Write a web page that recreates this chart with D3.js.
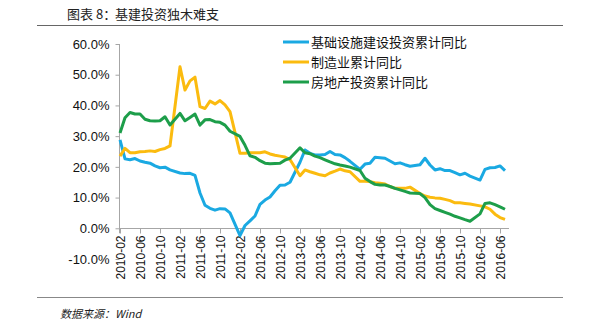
<!DOCTYPE html>
<html>
<meta charset="utf-8">
<script src="https://cdn.jsdelivr.net/npm/d3@7/dist/d3.min.js"></script>
<title>基建投资独木难支</title>
<style>
body { margin: 0; background: #fff; }
</style>
<body>
<script type="text/javascript">

// monthly cumulative yoy (%), January is not published so it is skipped
var months = [
    "2010-02","2010-03","2010-04","2010-05","2010-06","2010-07","2010-08","2010-09","2010-10","2010-11","2010-12",
    "2011-02","2011-03","2011-04","2011-05","2011-06","2011-07","2011-08","2011-09","2011-10","2011-11","2011-12",
    "2012-02","2012-03","2012-04","2012-05","2012-06","2012-07","2012-08","2012-09","2012-10","2012-11","2012-12",
    "2013-02","2013-03","2013-04","2013-05","2013-06","2013-07","2013-08","2013-09","2013-10","2013-11","2013-12",
    "2014-02","2014-03","2014-04","2014-05","2014-06","2014-07","2014-08","2014-09","2014-10","2014-11","2014-12",
    "2015-02","2015-03","2015-04","2015-05","2015-06","2015-07","2015-08","2015-09","2015-10","2015-11","2015-12",
    "2016-02","2016-03","2016-04","2016-05","2016-06","2016-07"
];

var infra = [
    28.8, 22.6, 22.3, 22.7, 21.9, 21.5, 21.2, 20.3, 19.7, 19.9, 19.0,
    18.0, 17.8, 17.9, 17.2, 11.5, 7.5, 6.5, 5.9, 6.4, 6.3, 5.0,
    -2.4, 0.9, 2.4, 4.0, 7.8, 9.2, 10.2, 12.2, 14.0, 14.1, 15.0,
    21.5, 25.5, 24.4, 23.9, 23.9, 24.0, 25.0, 24.0, 23.9, 23.0, 21.8,
    19.2, 20.9, 21.2, 23.1, 23.0, 22.8, 21.9, 21.0, 21.3, 20.7, 20.2,
    20.7, 22.8, 20.6, 19.0, 19.4, 18.8, 18.8, 18.1, 17.4, 17.9, 17.0,
    15.7, 19.2, 19.7, 19.8, 20.3, 18.8
];

var manuf = [
    23.5, 26.0, 24.6, 24.6, 24.9, 25.0, 25.2, 25.0, 25.6, 26.0, 26.8,
    52.6, 45.0, 48.0, 49.2, 39.6, 39.0, 41.4, 40.5, 41.6, 40.2, 38.0,
    24.4, 24.4, 24.6, 24.6, 24.6, 24.9, 24.2, 23.8, 23.5, 23.2, 22.4,
    17.1, 19.0, 18.4, 17.9, 17.4, 17.1, 18.0, 18.6, 19.3, 18.7, 18.4,
    15.3, 15.3, 15.2, 14.8, 14.7, 14.4, 13.6, 13.0, 13.0, 13.0, 13.4,
    11.3, 10.5, 10.1, 9.9, 9.8, 9.4, 9.0, 8.3, 8.3, 8.1, 7.9,
    7.3, 7.0, 6.2, 4.6, 3.5, 2.9
];

var estate = [
    31.0, 36.0, 37.7, 37.2, 37.2, 35.5, 35.0, 34.9, 35.0, 36.3, 33.6,
    37.4, 35.0, 36.1, 37.2, 33.6, 35.3, 35.4, 34.7, 34.5, 33.6, 31.6,
    29.9, 27.0, 23.6, 23.1, 22.0, 21.2, 21.0, 21.1, 21.2, 22.2, 22.8,
    26.2, 24.6, 24.3, 23.5, 23.0, 22.3, 21.6, 21.0, 20.6, 20.3, 19.9,
    18.8, 16.3, 15.2, 14.3, 14.1, 14.1, 13.6, 13.0, 12.5, 12.0, 11.5,
    11.3, 10.0, 7.7, 6.4, 5.8, 5.2, 4.6, 3.9, 3.4, 2.8, 2.3,
    4.7, 8.1, 8.3, 7.7, 7.0, 6.2
];

var seriesNames = ["基础设施建设投资累计同比", "制造业累计同比", "房地产投资累计同比"];
var seriesColors = ["#1aa9e2", "#fbbb0f", "#1d9e4a"];

var tickMonths = [
    "2010-02","2010-06","2010-10","2011-02","2011-06","2011-10","2012-02","2012-06","2012-10","2013-02",
    "2013-06","2013-10","2014-02","2014-06","2014-10","2015-02","2015-06","2015-10","2016-02","2016-06"
];
var yTicks = [-10, 0, 10, 20, 30, 40, 50, 60];

var size = { width : 600, height : 327 };
var plot = { left : 120, right : 500, top : 44, bottom : 259 };

// months counted from 2010-02 so the axis is evenly spaced by month
function monthIndex(s) {
    var p = s.split("-");
    return (+p[0] - 2010) * 12 + (+p[1] - 2);
}

var xScale = d3.scaleLinear()
    .domain([0, 76])
    .range([plot.left, plot.right]);
var yScale = d3.scaleLinear()
    .domain([-10, 60])
    .range([plot.bottom, plot.top]);

var series = [infra, manuf, estate].map(function(vals, i) {
    return {
        name : seriesNames[i],
        color : seriesColors[i],
        values : vals.map(function(v, j) { return { m : monthIndex(months[j]), v : v }; })
    };
});

var line = d3.line()
    .x(function(d) { return xScale(d.m); })
    .y(function(d) { return yScale(d.v); });

var svg = d3.select("body")
    .append("svg")
    .attr("width", size.width)
    .attr("height", size.height);

svg.append("rect")
    .attr("width", size.width)
    .attr("height", size.height)
    .attr("fill", "#fff");

// header and footer
svg.append("text")
    .attr("x", 67)
    .attr("y", 19)
    .style("font", "13px 'Noto Sans CJK SC'")
    .attr("fill", "#222")
    .text("图表 8：");
svg.append("text")
    .attr("x", 115)
    .attr("y", 19)
    .style("font", "13px 'Noto Sans CJK SC'")
    .attr("fill", "#222")
    .text("基建投资独木难支");

svg.append("line")
    .attr("x1", 37).attr("x2", 563)
    .attr("y1", 25.5).attr("y2", 25.5)
    .attr("stroke", "#666").attr("stroke-width", 1);

svg.append("line")
    .attr("x1", 37).attr("x2", 563)
    .attr("y1", 297.5).attr("y2", 297.5)
    .attr("stroke", "#888").attr("stroke-width", 1);

svg.append("text")
    .attr("x", 60)
    .attr("y", 318)
    .style("font", "italic 11px 'Noto Sans CJK SC'")
    .attr("fill", "#222")
    .text("数据来源：Wind");

// y axis
var yAxis = svg.append("g")
    .attr("class", "axisY")
    .attr("transform", "translate(" + (plot.left - 0.5) + ",0)")
    .call(d3.axisLeft(yScale)
        .tickValues(yTicks)
        .tickSize(4)
        .tickPadding(6)
        .tickFormat(function(d) { return d.toFixed(1) + "%"; }));
yAxis.select(".domain")
    .attr("d", "M0," + yScale(60) + "V" + (yScale(0) + 5));
yAxis.selectAll(".tick line").attr("stroke", "#a6a6a6");
yAxis.select(".domain").attr("stroke", "#a6a6a6");
yAxis.selectAll("text")
    .style("font", "13px 'Liberation Sans', Arial, sans-serif")
    .attr("fill", "#111");

// x axis at the zero line
var xAxis = svg.append("g")
    .attr("class", "axisX")
    .attr("transform", "translate(0," + (Math.round(yScale(0)) + 0.5) + ")")
    .call(d3.axisBottom(xScale)
        .tickValues(tickMonths.map(monthIndex))
        .tickSize(5)
        .tickFormat(function(d, i) { return tickMonths[i]; }));
xAxis.select(".domain")
    .attr("d", "M" + (plot.left - 1) + ",0H" + 509)
    .attr("stroke", "#a6a6a6");
xAxis.selectAll(".tick line").attr("stroke", "#a6a6a6");
xAxis.selectAll("text")
    .style("font", "12px 'Liberation Sans', Arial, sans-serif")
    .attr("fill", "#111")
    .style("text-anchor", "end")
    .attr("x", 0)
    .attr("y", 0)
    .attr("dy", "0.35em")
    .attr("transform", "translate(0,7) rotate(-90)");

// series lines
svg.selectAll(".series")
    .data(series)
    .enter()
    .append("path")
    .attr("class", "series")
    .attr("d", function(d) { return line(d.values); })
    .attr("fill", "none")
    .attr("stroke", function(d) { return d.color; })
    .attr("stroke-width", 3)
    .attr("stroke-linejoin", "round");

// legend
var legend = svg.selectAll(".legend")
    .data(series)
    .enter()
    .append("g")
    .attr("class", "legend")
    .attr("transform", function(d, i) { return "translate(283," + (42 + i * 20) + ")"; });

legend.append("line")
    .attr("x1", 0).attr("x2", 26)
    .attr("stroke", function(d) { return d.color; })
    .attr("stroke-width", 3);

legend.append("text")
    .attr("x", 28)
    .attr("dy", "0.35em")
    .style("font", "13px 'Noto Sans CJK SC'")
    .attr("fill", "#111")
    .text(function(d) { return d.name; });

</script>
</body>
</html>
